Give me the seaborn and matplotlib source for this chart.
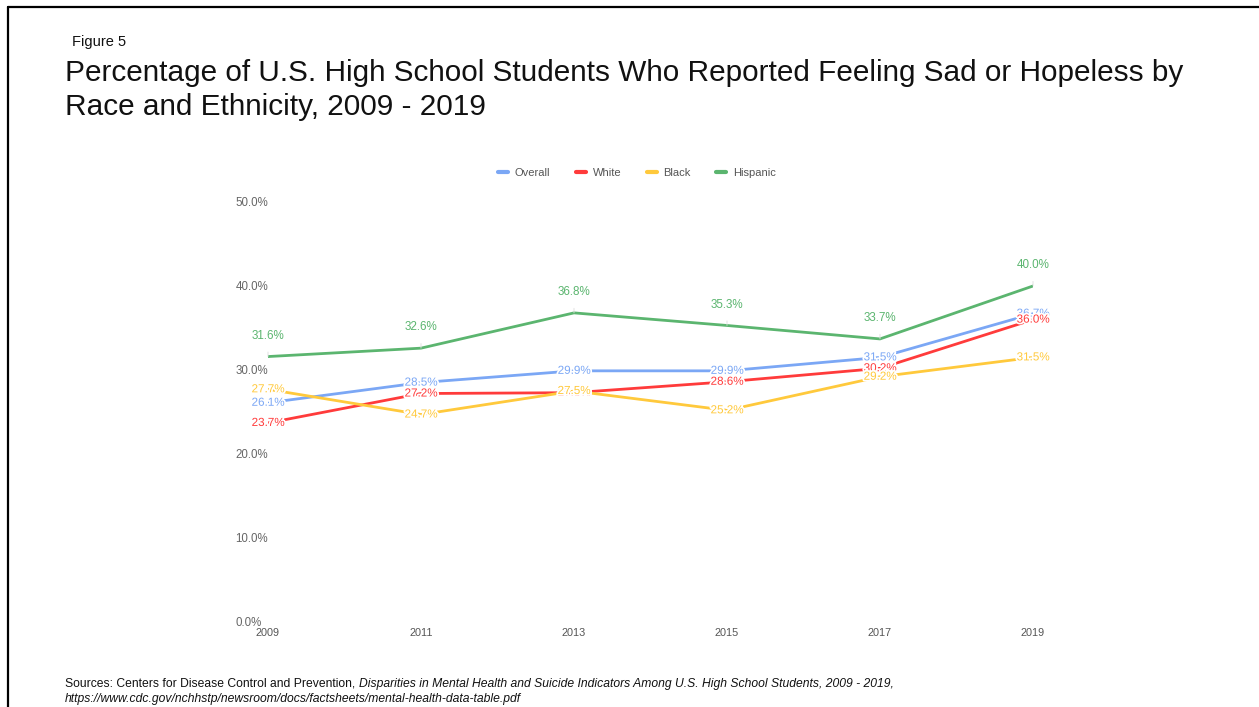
import matplotlib
matplotlib.use("Agg")
import matplotlib.pyplot as plt
import matplotlib.patheffects as pe
from matplotlib.lines import Line2D
import numpy as np
import pandas as pd
import seaborn as sns

# Survey years and percentages by group
years = [2009, 2011, 2013, 2015, 2017, 2019]
overall = [26.1, 28.5, 29.9, 29.9, 31.5, 36.7]
white = [23.7, 27.2, 27.3, 28.6, 30.2, 36.0]
black = [27.7, 24.7, 27.5, 25.2, 29.2, 31.5]
hispanic = [31.6, 32.6, 36.8, 35.3, 33.7, 40.0]
groups = ["Overall", "White", "Black", "Hispanic"]
y_ticks = [0, 10, 20, 30, 40, 50]

colors = {"Overall": "#7BA7F5", "White": "#FF3B3B", "Black": "#FFC93C", "Hispanic": "#5BB56F"}

series = {"Overall": overall, "White": white, "Black": black, "Hispanic": hispanic}
df = pd.DataFrame(
    [(y, g, v) for g in groups for y, v in zip(years, series[g])],
    columns=["Year", "Group", "Percent"],
)

sns.set_theme(style="white")
plt.rcParams["font.family"] = ["Liberation Sans", "DejaVu Sans"]

W, H = 1259, 707
fig = plt.figure(figsize=(W / 100, H / 100), dpi=100)

# Plot area placed in pixel terms
x0, x1 = 268, 1033
y0, y1 = 622, 202
ax = fig.add_axes([x0 / W, 1 - y0 / H, (x1 - x0) / W, (y0 - y1) / H])

sns.lineplot(data=df, x="Year", y="Percent", hue="Group", hue_order=groups,
             palette=colors, linewidth=2.0, ax=ax, legend=False)

ax.set_xlim(2009, 2019)
ax.set_ylim(0, 50)
for s in ax.spines.values():
    s.set_visible(False)
ax.set_xlabel("")
ax.set_ylabel("")
ax.set_xticks(years)
ax.set_xticklabels([str(y) for y in years])
ax.set_yticks(y_ticks)
ax.set_yticklabels([f"{v:.1f}%" for v in y_ticks], ha="left")
ax.tick_params(axis="y", length=0, pad=23.5, labelsize=8.3, labelcolor="#666666")
ax.tick_params(axis="x", length=0, pad=4, labelsize=7.8, labelcolor="#555555")
ax.grid(False)

halo = [pe.withStroke(linewidth=2.5, foreground="white")]

# Value labels
for g in ["Overall", "White", "Black"]:
    for x, v in zip(years, series[g]):
        ax.text(x, v, f"{v:.1f}%", ha="center", va="center", fontsize=8.4,
                color=colors[g], path_effects=halo, zorder=5)

for x, v in zip(years, hispanic):
    ax.annotate(f"{v:.1f}%", xy=(x, v), xytext=(0, 15), textcoords="offset points",
                ha="center", va="center", fontsize=8.4, color=colors["Hispanic"],
                arrowprops=dict(arrowstyle="-", color="#dddddd", lw=0.6,
                                shrinkA=5, shrinkB=0), zorder=5)

# Legend
handles = [Line2D([0], [0], color=colors[g], lw=3) for g in groups]
fig.legend(handles, groups, loc="center", bbox_to_anchor=(0.506, 1 - 173 / H),
           ncol=4, frameon=False, fontsize=8, handlelength=0.9,
           handletextpad=0.6, columnspacing=2.3, labelcolor="#555555")

# Titles
fig.text(72 / W, 1 - 42 / H, "Figure 5", fontsize=10.5, color="#111111", va="center")
fig.text(65 / W, 1 - 73 / H,
         "Percentage of U.S. High School Students Who Reported Feeling Sad or Hopeless by",
         fontsize=21.4, color="#111111", va="center")
fig.text(65 / W, 1 - 107 / H, "Race and Ethnicity, 2009 - 2019",
         fontsize=21.4, color="#111111", va="center")

# Source note: plain lead-in followed by italic title
lead = fig.text(65 / W, 1 - 684 / H,
                "Sources: Centers for Disease Control and Prevention, ",
                fontsize=8.7, color="#111111", va="center")
fig.canvas.draw()
bb = lead.get_window_extent(renderer=fig.canvas.get_renderer())
fig.text(bb.x1 / W, 1 - 684 / H,
         "Disparities in Mental Health and Suicide Indicators Among U.S. High School Students, 2009 - 2019,",
         fontsize=8.7, color="#111111", va="center", style="italic")
fig.text(65 / W, 1 - 699 / H,
         "https://www.cdc.gov/nchhstp/newsroom/docs/factsheets/mental-health-data-table.pdf",
         fontsize=8.7, color="#111111", va="center", style="italic")

# Page frame on the left and top edges
fig.add_artist(Line2D([8 / W, 8 / W], [0, 1 - 7 / H], color="black", lw=1.6,
                      transform=fig.transFigure))
fig.add_artist(Line2D([8 / W, 1], [1 - 7 / H, 1 - 7 / H], color="black", lw=1.6,
                      transform=fig.transFigure))

fig.savefig("out.png", dpi=100)
